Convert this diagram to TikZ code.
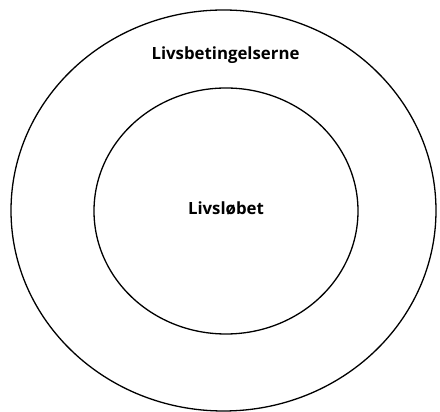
\documentclass[tikz,border=0pt]{standalone}
\usepackage{fontspec}
\setmainfont{Open Sans}
\begin{document}
\begin{tikzpicture}[x=1pt,y=1pt,
  ring/.style={draw=black, line width=1.3pt},
  lbl/.style={font=\bfseries\fontsize{16.8}{19}\selectfont, inner sep=0pt}]
\useasboundingbox (0,0) rectangle (440,412);
\draw[ring] (223.5,201.5) ellipse [x radius=212.5, y radius=200.5];
\draw[ring] (226,201) ellipse [x radius=132, y radius=123];
\node[lbl] (outer) at (225.5,357) {Livsbetingelserne};
\node[lbl] (inner) at (226,204) {Livsløbet};
\end{tikzpicture}
\end{document}
